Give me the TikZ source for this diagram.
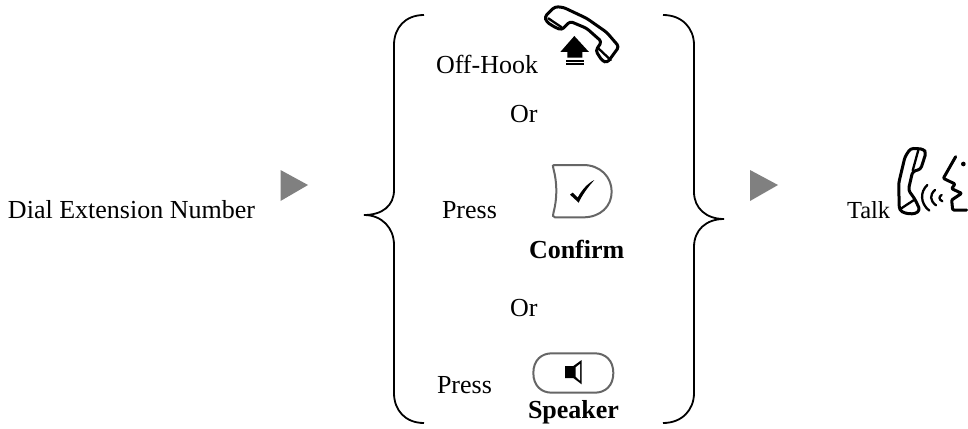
\documentclass[tikz,border=0pt]{standalone}
\usepackage{fontspec}
\setmainfont{Liberation Serif}
\tikzset{
  txt/.style={anchor=base west,inner sep=0pt,outer sep=0pt,font=\fontsize{26}{30}\selectfont},
  bld/.style={anchor=base west,inner sep=0pt,outer sep=0pt,font=\fontsize{26}{30}\selectfont\bfseries},
  brace/.style={draw=black,line width=1.8pt},
  play/.style={fill=black!50,draw=none},
  icon/.style={draw=black,line width=3pt,line join=round,line cap=round,rounded corners=3pt},
  thinicon/.style={draw=black,line width=2.3pt,line cap=round},
  btn/.style={draw=black!60,line width=2pt}
}
\begin{document}
\begin{tikzpicture}[x=1pt,y=-1pt]
\useasboundingbox (0,0) rectangle (968,428);
\fill[white] (0,0) rectangle (968,428);
% texts
\node[txt] (dial) at (8,218) {Dial Extension Number};
\node[txt] (off) at (436,74) {Off-Hook};
\node[txt] (or1) at (510,122) {Or};
\node[txt] (press1) at (442,218) {Press};
\node[bld] (confirm) at (529,258) {Confirm};
\node[txt] (or2) at (510,316) {Or};
\node[txt] (press2) at (437,393) {Press};
\node[bld] (speaker) at (528,418) {Speaker};
\node[txt,font=\fontsize{24.5}{30}\selectfont] (talk) at (847,218) {Talk};
% braces
\draw[brace] (424,15) .. controls (405,15) and (394,28) .. (394,45) -- (394,190) .. controls (394,206) and (382,215) .. (364,215)
  .. controls (382,215) and (394,228) .. (394,245) -- (394,393) .. controls (394,410) and (405,423) .. (424,423);
\draw[brace] (663,15) .. controls (682,15) and (694,28) .. (694,45) -- (694,192) .. controls (694,208) and (706,219) .. (724,219)
  .. controls (706,219) and (694,230) .. (694,247) -- (694,393) .. controls (694,410) and (682,423) .. (663,423);
% play arrows
\fill[play] (280.5,170) -- (308,185) -- (280.5,201) -- cycle;
\fill[play] (750,170) -- (778,185) -- (750,201) -- cycle;
% handset
\begin{scope}[shift={(420,0)},scale=1/3]
\draw[icon] (380,66) -- (374,50) -- (405,20) -- (430,22) -- (500,55) -- (560,97) -- (597,140) -- (562,188) -- (547,183) -- (527,152) -- (545,125) -- (500,85) -- (450,64) -- (425,90) -- (405,82) -- cycle;
\draw[thinicon] (385,55) -- (425,82);
\draw[thinicon] (535,145) -- (572,180);
\fill[black] (421,156) -- (463,108) -- (507,156) -- (487,156) -- (487,173) -- (442,173) -- (442,156) -- cycle;
\fill[black] (438,180) rectangle (492,185);
\fill[black] (438,189) rectangle (492,194);
\end{scope}
% confirm button
\begin{scope}[shift={(420,130)},scale=1/3]
\draw[btn] (402,105) -- (490,105) .. controls (540,105) and (575,140) .. (575,185) .. controls (575,230) and (540,262) .. (490,262) -- (405,262) .. controls (398,262) and (398,255) .. (400,250) .. controls (412,205) and (412,160) .. (400,115) .. controls (398,108) and (398,105) .. (402,105) -- cycle;
\fill[black] (450,194) -- (458,188) -- (473,203) .. controls (485,180) and (503,160) .. (523,150) .. controls (505,170) and (488,192) .. (476,218) -- cycle;
\end{scope}
% speaker button
\begin{scope}[shift={(420,340)},scale=1/3]
\draw[btn] (340,99) .. controls (340,60) and (365,40) .. (395,40) -- (525,40) .. controls (555,40) and (580,60) .. (580,99) .. controls (580,138) and (555,158) .. (525,158) -- (395,158) .. controls (365,158) and (340,138) .. (340,99) -- cycle;
\fill[black] (435,78) -- (460,78) -- (485,60) -- (485,133) -- (460,114) -- (435,114) -- cycle;
\fill[white] (467,82) -- (480,72) -- (480,122) -- (467,110) -- cycle;
\end{scope}
% talk icon
\begin{scope}[shift={(840,130)},scale=1/3]
\draw[icon] (212,55) -- (250,57) -- (258,68) -- (242,118) -- (218,124) -- (205,180) -- (225,208) -- (240,240) -- (225,252) -- (195,250) -- (178,240) -- (176,160) -- (195,80) -- cycle;
\draw[thinicon] (235,60) -- (218,122);
\draw[thinicon] (184,235) -- (225,208);
\draw[thinicon] (262,165) .. controls (240,185) and (240,220) .. (268,242);
\draw[thinicon] (285,180) .. controls (268,195) and (270,212) .. (288,226);
\draw[thinicon] (305,195) .. controls (296,200) and (296,208) .. (307,214);
\fill[black] (370,102) circle (7);
\draw[icon,rounded corners=1pt] (347,80) -- (310,145) -- (345,162) -- (335,176) -- (365,190) -- (335,210) -- (338,240) -- (380,240);
\end{scope}
\end{tikzpicture}
\end{document}
